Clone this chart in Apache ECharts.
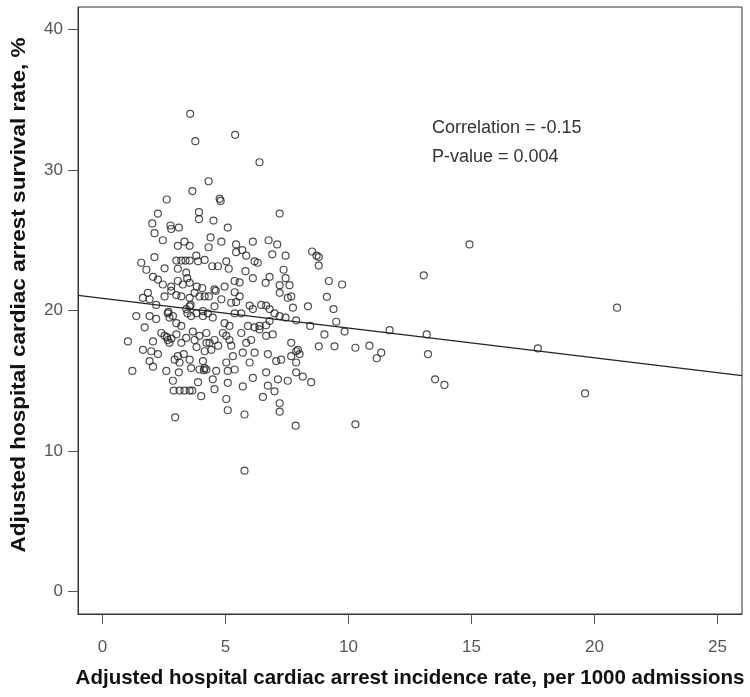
<!DOCTYPE html>
<html>
<head>
<meta charset="utf-8">
<script src="https://cdn.jsdelivr.net/npm/echarts@6/dist/echarts.min.js"></script>
<style>
  html, body { margin: 0; padding: 0; background: #fff; }
  #scatter { width: 750px; height: 697px; }
</style>
</head>
<body>
<div id="scatter"></div>
<script>
// hospital cardiac arrest incidence (per 1000 admissions) vs survival (%)
var incidence = [
  3.65, 2.61, 4.31, 3.92, 3.92, 2.25, 2.02, 2.11, 2.76, 2.79, 3.10, 2.45, 3.06, 3.33, 3.54,
  2.11, 3.00, 3.20, 3.37, 3.54, 1.57, 1.78, 2.52, 3.06, 3.40, 3.44, 3.81, 3.88, 4.15, 2.05,
  2.25, 2.45, 2.79, 3.06, 3.26, 3.54, 3.83, 4.05, 1.84, 1.64, 1.91, 2.18, 2.52, 2.79, 3.00,
  3.20, 3.54, 3.74, 3.94, 4.15, 1.37, 1.71, 1.91, 2.18, 2.65, 2.72, 2.86, 3.00, 3.20, 3.40,
  3.54, 3.60, 3.81, 4.08, 4.28, 1.03, 1.64, 1.98, 2.05, 2.25, 2.39, 2.52, 2.65, 2.72, 3.00,
  3.20, 3.40, 3.67, 3.74, 3.94, 4.22, 4.22, 1.91, 2.05, 2.59, 2.93, 3.13, 3.06, 3.54, 3.60,
  3.94, 4.15, 1.21, 2.86, 3.10, 3.88, 4.01, 2.89, 3.13, 3.33, 3.54, 3.65, 2.95,
  4.76, 4.80, 7.20, 4.51, 5.09, 4.39, 4.83, 4.31, 5.43, 5.68, 5.43, 5.84, 6.11, 6.75, 7.10,
  6.90, 7.44, 4.46, 4.69, 5.03, 5.13, 6.18, 6.31, 5.81, 6.11, 7.36, 6.79, 6.63, 7.20, 7.60,
  7.44, 4.55, 4.96, 5.37, 5.57, 4.32, 4.83, 5.37, 5.57, 7.20, 7.53, 7.67, 4.55, 5.23, 5.43,
  5.37, 5.64, 5.98, 6.11, 6.45, 6.65, 6.79, 7.74, 4.08, 4.48, 4.96, 5.16, 5.91, 6.18, 6.38,
  6.65, 6.79, 6.99, 7.20, 7.44, 4.35, 4.55, 4.89, 5.03, 5.16, 5.64, 5.84, 6.04, 6.38, 6.65,
  6.92, 7.67, 7.87, 4.15, 4.42, 5.23, 5.30, 5.70, 6.18, 6.72, 7.06, 7.26, 7.87, 7.67, 4.08,
  4.22, 4.62, 5.03, 5.09, 5.37, 5.98, 6.11, 6.65, 7.13, 7.53, 7.87, 4.48, 4.55, 5.09, 5.70,
  6.72, 6.99, 5.03, 5.09, 5.77, 6.52, 7.20, 7.20, 7.85, 5.77,
  8.52, 8.79, 8.70, 8.79, 9.20, 9.74, 8.35, 9.12, 9.39, 7.87, 8.44, 9.50, 9.84, 9.02, 7.94,
  8.01, 8.79, 9.43, 10.28, 10.85, 11.15, 8.14, 8.48, 10.28,
  14.92, 13.06, 20.92, 11.33, 11.67, 13.18, 13.23, 13.52, 13.90, 17.70, 19.62,
  3.56, 3.77, 5.39, 6.38,
  4.60, 3.45, 2.80, 3.30, 4.70, 2.68, 3.58, 2.62, 3.82, 4.12
];
var survival = [
  28.5, 27.9, 29.2, 27.0, 26.5, 26.9, 26.2, 25.5, 26.05, 25.8, 25.9, 25.0, 24.6, 24.9, 24.6,
  23.8, 23.55, 23.55, 23.55, 23.55, 23.4, 22.9, 23.0, 22.97, 22.7, 22.3, 23.9, 23.5, 23.6, 22.4,
  22.2, 21.85, 21.7, 22.1, 21.85, 21.97, 21.7, 21.6, 21.26, 20.9, 20.8, 20.4, 21.0, 21.4, 21.1,
  21.0, 20.9, 21.26, 21.0, 21.0, 19.6, 18.8, 19.6, 19.4, 19.8, 19.5, 19.6, 19.1, 18.9, 20.1,
  20.3, 19.6, 19.8, 19.95, 19.8, 17.8, 17.2, 17.1, 17.8, 16.9, 18.4, 18.2, 17.9, 17.7, 18.3,
  17.7, 18.05, 18.5, 17.9, 18.2, 18.4, 17.7, 16.4, 16.0, 15.7, 16.5, 16.3, 16.75, 16.5, 15.9,
  15.8, 15.9, 15.7, 15.0, 15.6, 14.9, 13.9, 14.3, 14.3, 14.3, 14.3, 14.3, 12.4,
  27.95, 27.8, 26.9, 26.4, 25.9, 25.2, 24.9, 24.5, 24.7, 24.3, 24.15, 23.9, 24.9, 25.0, 24.7,
  24.0, 23.9, 23.15, 23.15, 23.5, 22.97, 23.5, 23.4, 22.8, 22.3, 22.9, 22.4, 21.97, 21.8, 21.8,
  22.3, 21.5, 21.7, 22.1, 22.0, 21.0, 20.8, 21.3, 21.0, 21.26, 20.9, 21.0, 20.3, 20.55, 20.6,
  19.8, 19.8, 20.35, 20.1, 20.4, 20.35, 20.1, 20.2, 19.6, 19.5, 19.1, 18.9, 18.9, 18.8, 18.9,
  18.95, 19.25, 19.8, 19.6, 19.5, 17.7, 17.9, 18.4, 18.2, 17.9, 18.4, 17.7, 17.9, 18.65, 18.2,
  18.3, 17.7, 17.1, 17.1, 17.2, 17.5, 16.75, 17.0, 17.0, 16.9, 16.4, 16.5, 16.3, 16.75, 16.4,
  15.8, 15.7, 16.3, 15.7, 15.8, 16.3, 15.2, 15.6, 15.1, 15.0, 15.6, 15.1, 14.4, 14.85, 14.6,
  14.65, 14.25, 13.7, 12.9, 12.6, 13.85, 13.4, 12.8, 11.8, 8.6,
  24.2, 23.8, 23.9, 23.2, 22.1, 21.85, 20.3, 20.97, 20.1, 19.3, 18.9, 19.2, 18.5, 18.3, 17.2,
  16.9, 17.45, 17.45, 17.35, 17.5, 16.6, 15.3, 14.9, 11.9,
  24.7, 22.5, 20.2, 17.0, 18.6, 18.3, 16.9, 15.1, 14.7, 17.3, 14.1,
  34.0, 32.05, 32.5, 30.55,
  21.4, 19.8, 18.0, 16.9, 17.5, 19.9, 20.4, 18.1, 17.4, 15.75
];

// fitted line end points, read at the plot edges
var fitX = [-1, 26];
var fitY = [21.07, 15.37];

var xTicks = [0, 5, 10, 15, 20, 25];
var yTicks = [0, 10, 20, 30, 40];

var points = incidence.map(function (x, i) { return [x, survival[i]]; });
var fitLine = fitX.map(function (x, i) { return [x, fitY[i]]; });

var chart = echarts.init(document.getElementById('scatter'));
var option = {
  animation: false,
  backgroundColor: '#fff',
  grid: {
    left: 78, right: 8, top: 7, bottom: 83,
    show: true, borderColor: '#333', borderWidth: 1
  },
  xAxis: {
    type: 'value',
    min: -1, max: 26,
    name: 'Adjusted hospital cardiac arrest incidence rate, per 1000 admissions',
    nameLocation: 'middle',
    nameGap: 54,
    nameTextStyle: { fontFamily: 'Liberation Sans', fontWeight: 'bold', fontSize: 20.5, color: '#111' },
    axisLine: { show: true, onZero: false, lineStyle: { color: '#333', width: 1 } },
    splitLine: { show: false },
    axisTick: { show: true, inside: false, length: 10, customValues: xTicks, lineStyle: { color: '#555' } },
    axisLabel: { customValues: xTicks, margin: 25, fontFamily: 'Liberation Sans', fontSize: 17, color: '#555' }
  },
  yAxis: {
    type: 'value',
    min: -1.6, max: 41.6,
    axisLine: { show: true, onZero: false, lineStyle: { color: '#333', width: 1 } },
    splitLine: { show: false },
    axisTick: { show: true, inside: false, length: 10, customValues: yTicks, lineStyle: { color: '#555' } },
    axisLabel: { customValues: yTicks, margin: 15, fontFamily: 'Liberation Sans', fontSize: 17, color: '#555' }
  },
  graphic: [
    {
      type: 'text', x: 19, y: 295, rotation: Math.PI / 2, scaleX: 1.1,
      style: {
        text: 'Adjusted hospital cardiac arrest survival rate, %',
        font: 'bold 20.5px "Liberation Sans"', fill: '#111',
        align: 'center', verticalAlign: 'middle'
      }
    },
    { type: 'text', left: 432, top: 119, style: { text: 'Correlation = -0.15', font: '18px "Liberation Sans"', fill: '#333' } },
    { type: 'text', left: 432, top: 148, style: { text: 'P-value = 0.004', font: '18px "Liberation Sans"', fill: '#333' } }
  ],
  series: [
    {
      type: 'scatter',
      data: points,
      symbol: 'circle',
      symbolSize: 7,
      itemStyle: { color: 'rgba(0,0,0,0)', borderColor: '#222', borderWidth: 1.2 }
    },
    {
      type: 'line',
      data: fitLine,
      symbol: 'none',
      lineStyle: { color: '#222', width: 1.3 },
      z: 3
    }
  ]
};
chart.setOption(option);
</script>
</body>
</html>
